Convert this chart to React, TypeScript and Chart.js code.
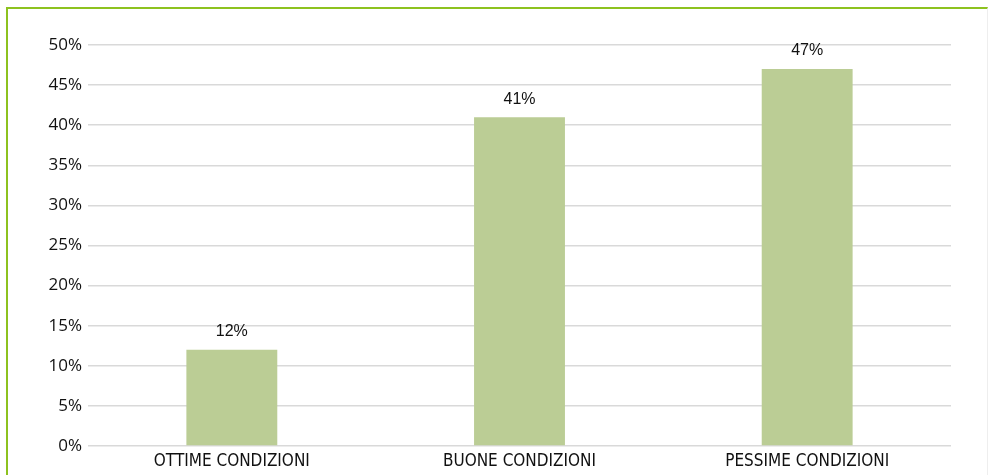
import React, { useEffect, useRef } from "react";
import { Chart, registerables } from "chart.js";

Chart.register(...registerables);

const categories = ["OTTIME CONDIZIONI", "BUONE CONDIZIONI", "PESSIME CONDIZIONI"];
const values = [12, 41, 47];
const yTicks = [0, 5, 10, 15, 20, 25, 30, 35, 40, 45, 50];

const valueLabels = {
  id: "valueLabels",
  afterDatasetsDraw(chart: any) {
    const ctx = chart.ctx;
    const meta = chart.getDatasetMeta(0);
    ctx.save();
    ctx.font = "16px 'Liberation Sans', Arial, sans-serif";
    ctx.fillStyle = "#111";
    ctx.textAlign = "center";
    ctx.textBaseline = "bottom";
    meta.data.forEach((el: any, i: number) => {
      ctx.fillText(values[i] + "%", el.x, el.y - 10);
    });
    ctx.restore();
  },
};

export default function App() {
  const ref = useRef<HTMLCanvasElement>(null);
  useEffect(() => {
    if (!ref.current) return;
    const chart = new Chart(ref.current, {
      type: "bar",
      data: {
        labels: categories,
        datasets: [
          {
            data: values,
            backgroundColor: "#bbcd95",
            barPercentage: 0.316,
            categoryPercentage: 1,
          },
        ],
      },
      options: {
        animation: false,
        responsive: false,
        maintainAspectRatio: false,
        layout: { padding: { left: 0, right: 39, top: 45, bottom: 0 } },
        plugins: { legend: { display: false }, tooltip: { enabled: false } },
        scales: {
          x: {
            grid: { display: false },
            border: { display: false },
            ticks: {
              color: "#111",
              font: { family: "'DejaVu Sans Condensed', 'DejaVu Sans', sans-serif", size: 17 },
              padding: -3,
              maxRotation: 0,
            },
            afterFit(scale: any) {
              scale.height = 29;
            },
          },
          y: {
            min: 0,
            max: 50,
            afterBuildTicks(scale: any) {
              scale.ticks = yTicks.map((v) => ({ value: v }));
            },
            grid: { color: "#d9d9d9", lineWidth: 1.5, drawTicks: false },
            border: { display: false },
            ticks: {
              color: "#111",
              font: { family: "'Open Sans', 'Noto Sans', sans-serif", size: 17 },
              padding: 6,
              callback: (v: any) => v + "%",
            },
            afterFit(scale: any) {
              scale.width = 88;
            },
          },
        },
      },
      plugins: [valueLabels],
    });
    return () => chart.destroy();
  }, []);
  return (
    <div style={{ position: "fixed", left: 0, top: 0, width: 990, height: 475, background: "#fff" }}>
      <div
        style={{
          position: "absolute",
          left: 6,
          top: 7,
          width: 982,
          height: 470,
          borderTop: "2px solid #8dc21f",
          borderLeft: "2px solid #8dc21f",
          borderRight: "1px solid #eeeeee",
          boxSizing: "border-box",
        }}
      />
      <canvas ref={ref} width={990} height={475} style={{ position: "absolute", left: 0, top: 0 }} />
    </div>
  );
}
